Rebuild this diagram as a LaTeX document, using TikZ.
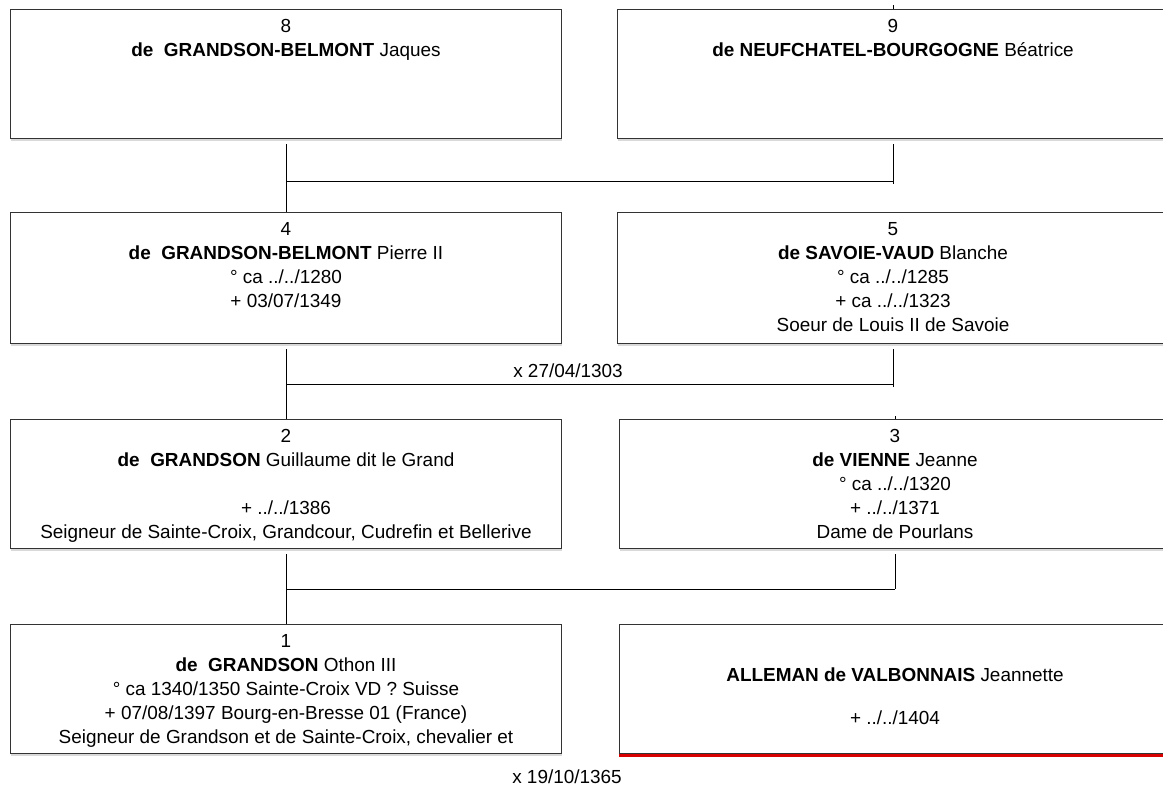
\documentclass[tikz,border=0pt]{standalone}
\usepackage{fontspec}
\setmainfont{Liberation Sans}
\usetikzlibrary{positioning,calc,shadows}

\begin{document}
\begin{tikzpicture}[x=0.75pt, y=-0.75pt,
  pbox/.style={draw=black!80, line width=0.75pt, fill=white, anchor=north west,
               minimum width=413.25pt, minimum height=96.75pt, inner sep=0pt,
               drop shadow={shadow xshift=0.6pt, shadow yshift=-2pt, opacity=0.3}},
  ptext/.style={align=center, inner sep=0pt, font=\fontsize{14.2}{18}\selectfont},
  link/.style={draw=black, line width=0.75pt},
  gap/.style={shorten <=3.75pt}]
  \useasboundingbox (0,0) rectangle (1163,789);
  \clip (0,0) rectangle (1163,789);
  \node[pbox] (p8) at (10,9) {};
  \node[pbox] (p9) at (617,9) {};
  \node[pbox, minimum height=98.25pt] (p4) at (10,212) {};
  \node[pbox, minimum height=98.25pt] (p5) at (617,212) {};
  \node[pbox] (p2) at (10,419) {};
  \node[pbox] (p3) at (619,419) {};
  \node[pbox] (p1) at (10,624) {};
  \node[pbox] (p7) at (619,624) {};
  \draw[red!85!black, line width=2.2pt] ([yshift=-0.9pt]p7.south west) -- ([yshift=-0.9pt]p7.south east);
  \node[ptext, below=7.5pt of p8.north] (t8) {8\\ \textbf{de~~GRANDSON-BELMONT} Jaques};
  \node[ptext, below=7.5pt of p9.north] (t9) {9\\ \textbf{de NEUFCHATEL-BOURGOGNE} Béatrice};
  \node[ptext, below=7.5pt of p4.north] (t4) {4\\ \textbf{de~~GRANDSON-BELMONT} Pierre II\\ ° ca ../../1280\\ + 03/07/1349};
  \node[ptext, below=7.5pt of p5.north] (t5) {5\\ \textbf{de SAVOIE-VAUD} Blanche\\ ° ca ../../1285\\ + ca ../../1323\\ Soeur de Louis II de Savoie};
  \node[ptext, below=7.5pt of p2.north] (t2) {2\\ \textbf{de~~GRANDSON} Guillaume dit le Grand\\ \mbox{}\\ + ../../1386\\ Seigneur de Sainte-Croix, Grandcour, Cudrefin et Bellerive};
  \node[ptext, below=7.5pt of p3.north] (t3) {3\\ \textbf{de VIENNE} Jeanne\\ ° ca ../../1320\\ + ../../1371\\ Dame de Pourlans};
  \node[ptext, below=7.5pt of p1.north] (t1) {1\\ \textbf{de~~GRANDSON} Othon III\\ ° ca 1340/1350 Sainte-Croix VD ? Suisse\\ + 07/08/1397 Bourg-en-Bresse 01 (France)\\ Seigneur de Grandson et de Sainte-Croix, chevalier et};
  \node[ptext, below=33pt of p7.north] (t7) {\textbf{ALLEMAN de VALBONNAIS} Jeannette\\[14.25pt] + ../../1404};
  \coordinate (j4) at ($(p8.south)+(0,42)$);
  \coordinate (j2) at ($(p4.south)+(0,40)$);
  \coordinate (j1) at ($(p2.south)+(0,40)$);
  \draw[link, gap] (p8.south) -- (p4.north);
  \draw[link] (j4) -- (j4 -| p9.south);
  \draw[link, gap] (p9.south) -- ($(j4 -| p9.south)+(0,3)$);
  \draw[link] (p9.north) -- ++(0,-4);
  \draw[link, gap] (p4.south) -- (p2.north);
  \draw[link] (j2) -- (j2 -| p5.south);
  \draw[link, gap] (p5.south) -- ($(j2 -| p5.south)+(0,3)$);
  \draw[link] (p3.north) -- ++(0,-3);
  \draw[link, gap] (p2.south) -- (p1.north);
  \draw[link] (j1) -- (j1 -| p3.south);
  \draw[link, gap] (p3.south) -- (j1 -| p3.south);
  \node[ptext] (m2) at (568,371) {x 27/04/1303};
  \node[ptext] (m1) at (567,777) {x 19/10/1365};
\end{tikzpicture}
\end{document}
